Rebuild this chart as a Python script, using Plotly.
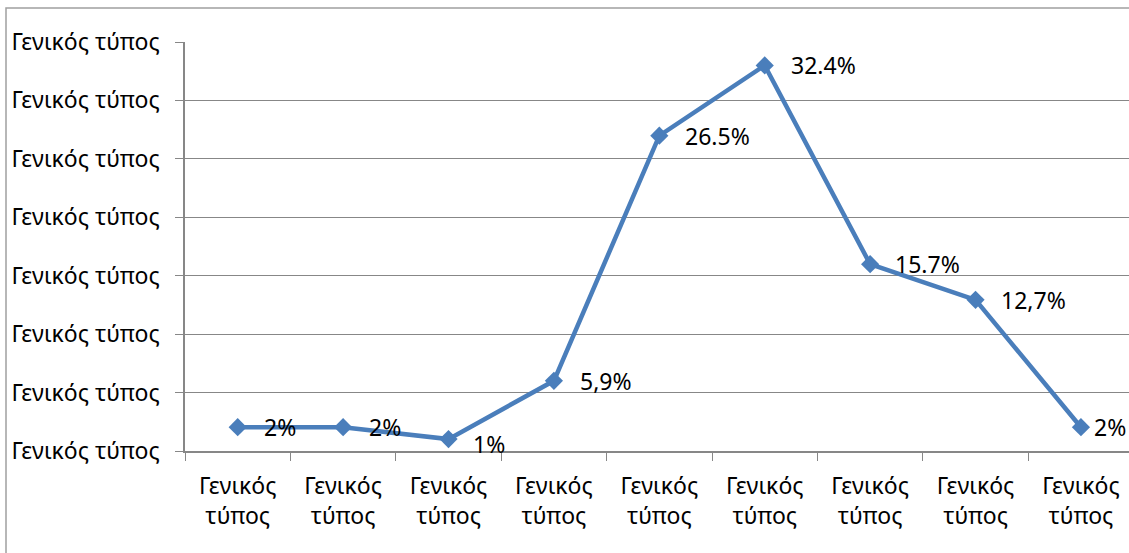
import plotly.graph_objects as go

# ---- data ----
category_labels = ["Γενικός<br>τύπος"] * 9
values = [2, 2, 1, 5.9, 26.5, 32.4, 15.7, 12.7, 2]
value_labels = ["2%", "2%", "1%", "5,9%", "26.5%", "32.4%", "15.7%", "12,7%", "2%"]
y_tick_labels = ["Γενικός τύπος"] * 8

# ---- styling ----
FONT = "Noto Sans"
FS = 23
BLUE = "#4A7EBB"
GRAY = "#878787"
Y_MAX = 34.37
label_xshift = [24, 24, 22, 24, 24, 24, 23, 23, 11]
label_yshift = [0, 0, -5, 0, 0, 0, 0, 0, 0]

xcats = [str(i) for i in range(len(values))]

fig = go.Figure()
fig.add_trace(go.Scatter(
    x=xcats, y=values, mode="lines+markers",
    line=dict(color=BLUE, width=4.5),
    marker=dict(symbol="diamond", size=14, color=BLUE),
    hoverinfo="skip", showlegend=False,
))

for xc, v, t, dx, dy in zip(xcats, values, value_labels, label_xshift, label_yshift):
    fig.add_annotation(x=xc, y=v, text=t, showarrow=False, xanchor="left",
                       yanchor="middle", xshift=dx, yshift=dy,
                       font=dict(family=FONT, size=FS, color="black"))

n_y = len(y_tick_labels)
fig.update_layout(
    width=1129, height=553,
    margin=dict(l=185, r=0, t=42, b=102),
    paper_bgcolor="white", plot_bgcolor="white",
    font=dict(family=FONT, size=FS, color="black"),
    xaxis=dict(
        type="category", range=[-0.5, 8.456],
        tickvals=xcats, ticktext=category_labels,
        tickson="boundaries", ticks="outside", ticklen=8, tickcolor=GRAY,
        showgrid=False, showline=True, linecolor=GRAY, linewidth=1.5,
        zeroline=False, ticklabelstandoff=14,
    ),
    yaxis=dict(
        range=[0, Y_MAX], tickmode="array",
        tickvals=[i * Y_MAX / (n_y - 1) for i in range(n_y)],
        ticktext=y_tick_labels,
        ticks="outside", ticklen=8, tickcolor=GRAY,
        showgrid=True, gridcolor=GRAY, gridwidth=1,
        showline=True, linecolor=GRAY, linewidth=1.5, zeroline=False,
        ticklabelstandoff=11,
    ),
)

# outer chart border (partially outside the visible page, as in the reference)
fig.add_shape(type="rect", xref="paper", yref="paper",
              x0=-179 / 944, x1=1.2, y0=-0.4, y1=1 + 34 / 409,
              line=dict(color="#A0A0A0", width=1.5), fillcolor="rgba(0,0,0,0)",
              layer="below")

fig.write_html("out.html", config={"displayModeBar": False},
               post_script="document.body.style.margin='0';document.body.style.overflow='hidden';")
